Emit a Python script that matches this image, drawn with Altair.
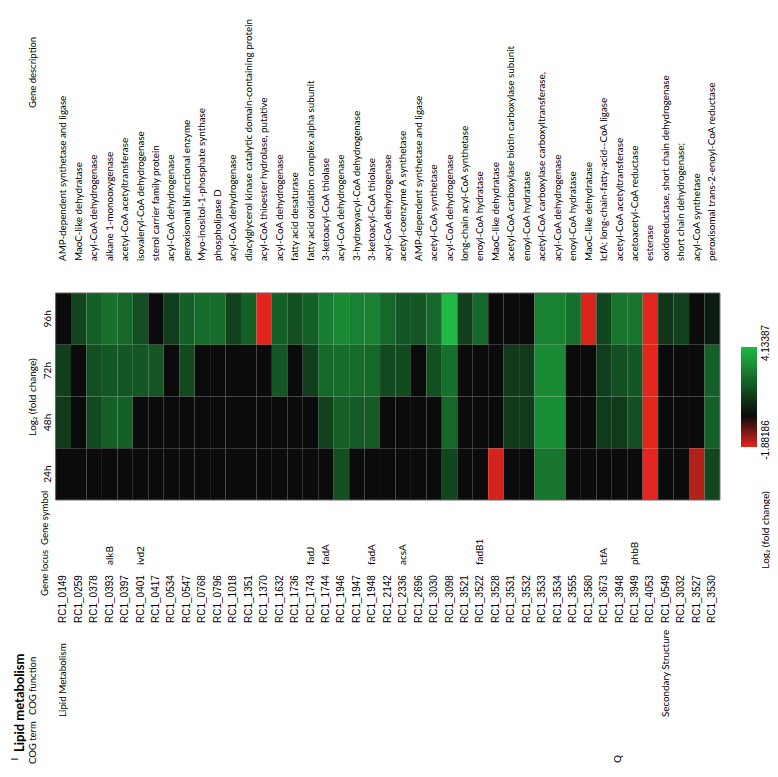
import altair as alt
import pandas as pd

# ---------------- data ----------------
loci = ["RC1_0149", "RC1_0259", "RC1_0378", "RC1_0393", "RC1_0397", "RC1_0401", "RC1_0417",
        "RC1_0534", "RC1_0547", "RC1_0768", "RC1_0796", "RC1_1018", "RC1_1351", "RC1_1370",
        "RC1_1632", "RC1_1736", "RC1_1743", "RC1_1744", "RC1_1946", "RC1_1947", "RC1_1948",
        "RC1_2142", "RC1_2336", "RC1_2696", "RC1_3030", "RC1_3098", "RC1_3521", "RC1_3522",
        "RC1_3528", "RC1_3531", "RC1_3532", "RC1_3533", "RC1_3534", "RC1_3555", "RC1_3580",
        "RC1_3673", "RC1_3948", "RC1_3949", "RC1_4053", "RC1_0549", "RC1_3032", "RC1_3527",
        "RC1_3530"]

symbols = ["", "", "", "alkB", "", "ivd2", "", "", "", "", "", "", "", "", "", "",
           "fadJ", "fadA", "", "", "fadA", "", "acsA", "", "", "", "", "fadB1", "", "", "",
           "", "", "", "", "lcfA", "", "phbB", "", "", "", "", ""]

descriptions = [
    "AMP-dependent synthetase and ligase",
    "MaoC-like dehydratase",
    "acyl-CoA dehydrogenase",
    "alkane 1-monooxygenase",
    "acetyl-CoA acetyltransferase",
    "isovaleryl-CoA dehydrogenase",
    "sterol carrier family protein",
    "acyl-CoA dehydrogenase",
    "peroxisomal bifunctional enzyme",
    "Myo-inositol-1-phosphate synthase",
    "phospholipase D",
    "acyl-CoA dehydrogenase",
    "diacylglycerol kinase catalytic domain-containing protein",
    "acyl-CoA thioester hydrolase, putative",
    "acyl-CoA dehydrogenase",
    "fatty acid desaturase",
    "fatty acid oxidation complex alpha subunit",
    "3-ketoacyl-CoA thiolase",
    "acyl-CoA dehydrogenase",
    "3-hydroxyacyl-CoA dehydrogenase",
    "3-ketoacyl-CoA thiolase",
    "acyl-CoA dehydrogenase",
    "acetyl-coenzyme A synthetase",
    "AMP-dependent synthetase and ligase",
    "acetyl-CoA synthetase",
    "acyl-CoA dehydrogenase",
    "long-chain acyl-CoA synthetase",
    "enoyl-CoA hydratase",
    "MaoC-like dehydratase",
    "acetyl-CoA carboxylase biotin carboxylase subunit",
    "enoyl-CoA hydratase",
    "acetyl-CoA carboxylase carboxyltransferase,",
    "acyl-CoA dehydrogenase",
    "enoyl-CoA hydratase",
    "MaoC-like dehydratase",
    "lcfA; long-chain-fatty-acid--CoA ligase",
    "acetyl-CoA acetyltransferase",
    "acetoacetyl-CoA reductase",
    "esterase",
    "oxidoreductase, short chain dehydrogenase",
    "short chain dehydrogenase;",
    "acyl-CoA synthetase",
    "peroxisomal trans-2-enoyl-CoA reductase",
]

cog_function = ["Lipid Metabolism"] + [""] * 38 + ["Secondary Structure"] + [""] * 3
cog_term = ["I"] + [""] * 38 + ["Q"] + [""] * 3

times = ["96h", "72h", "48h", "24h"]

v96 = [0, 1.4, 2.0, 2.4, 2.2, 1.6, 0, 1.2, 2.0, 2.3,
       2.3, 1.3, 2.0, -1.88, 2.0, 1.6, 2.0, 2.7, 3.0, 2.8,
       2.8, 2.2, 1.8, 1.8, 2.2, 4.13, 1.2, 2.2, 0, 0,
       0, 2.8, 2.8, 2.4, -1.8, 1.4, 2.5, 2.5, -1.88, 1.0,
       1.3, 0, 0.4]
v72 = [1.2, 0, 1.6, 1.8, 1.8, 1.8, 1.8, 0, 1.5, 0,
       0, 0, 0, 0, 1.8, 0, 1.2, 2.2, 2.3, 2.3,
       2.2, 1.5, 1.5, 0, 1.6, 2.4, 0, 0, 0, 1.1,
       1.1, 3.0, 3.0, 0, 0, 1.2, 1.6, 1.8, -1.88, 0,
       0, 0, 2.0]
v48 = [1.1, 0, 1.5, 2.0, 2.0, 0, 0, 0, 0, 0,
       0, 0, 0, 0, 0, 0, 0, 1.3, 2.0, 1.9,
       1.9, 0, 0, 0, 0, 2.2, 0, 0, 0, 1.1,
       1.1, 3.1, 3.1, 0, 0, 1.1, 1.1, 1.6, -1.88, 0,
       0, 0, 2.0]
v24 = [0, 0, 0, 0, 0, 0, 0, 0, 0, 0,
       0, 0, 0, 0, 0, 0, 0, 0, 1.6, 0,
       0, 0, 0, 0, 0, 1.4, 0, 0, -1.75, 0,
       0, 2.5, 2.5, 0, 0, 0, 0, 0, -1.88, 0,
       0, -1.45, 1.4]

color_min, color_max = -1.88186, 4.13387
legend_title = "Log\u2082 (fold change)"

# ---------------- tables ----------------
series = {"96h": v96, "72h": v72, "48h": v48, "24h": v24}
rows = []
for r, t in enumerate(times):
    for i, val in enumerate(series[t]):
        rows.append({"idx": i, "r": r, "time": t, "v": val, "locus": loci[i]})
heat = pd.DataFrame(rows)

genes = pd.DataFrame({
    "idx": list(range(len(loci))),
    "locus": loci,
    "symbol": symbols,
    "desc": descriptions,
    "cogf": cog_function,
    "cogt": cog_term,
})
tlab = pd.DataFrame({"time": times, "r": list(range(len(times)))})

W, H = 762, 761
xs = alt.Scale(domain=[-3.579, 45.74], nice=False, zero=False)
ys = alt.Scale(domain=[-5.507, 9.198], reverse=True, nice=False, zero=False)

FONT = "Lato"

heatmap = alt.Chart(heat).transform_calculate(
    x0="datum.idx - 0.5", x1="datum.idx + 0.5", y0="datum.r", y1="datum.r + 1"
).mark_rect().encode(
    x=alt.X("x0:Q", scale=xs, axis=None),
    x2="x1:Q",
    y=alt.Y("y0:Q", scale=ys, axis=None),
    y2="y1:Q",
    color=alt.Color(
        "v:Q",
        scale=alt.Scale(domain=[color_min, 0, color_max],
                        range=["#e2261d", "#0b0b0b", "#1fba45"],
                        interpolate="rgb"),
        legend=alt.Legend(orient="none", legendX=733, legendY=339, direction="vertical",
                          gradientLength=100, gradientThickness=16, labelOpacity=0,
                          title=None, gradientStrokeWidth=0),
    ),
)

frame = alt.Chart(pd.DataFrame({"a": [0]})).transform_calculate(
    x0="-0.5", x1=str(len(loci) - 0.5), y0="0", y1=str(len(times))
).mark_rect(fillOpacity=0, stroke="#666666", strokeWidth=1).encode(
    x=alt.X("x0:Q", scale=xs, axis=None), x2="x1:Q",
    y=alt.Y("y0:Q", scale=ys, axis=None), y2="y1:Q",
)

desc = alt.Chart(genes).mark_text(angle=270, align="left", baseline="middle",
                                  font=FONT, fontSize=9.8, color="black").encode(
    x=alt.X("idx:Q", scale=xs, axis=None), y=alt.value(253), text="desc:N")

locus = alt.Chart(genes).mark_text(angle=270, align="left", baseline="middle",
                                   font="Liberation Sans", fontSize=10, color="black").encode(
    x=alt.X("idx:Q", scale=xs, axis=None), y=alt.value(615), text="locus:N")

sym = alt.Chart(genes).mark_text(angle=270, align="left", baseline="middle",
                                 font=FONT, fontSize=10, color="black").encode(
    x=alt.X("idx:Q", scale=xs, axis=None), y=alt.value(557), text="symbol:N")

cogf = alt.Chart(genes).mark_text(angle=270, align="left", baseline="middle",
                                  font=FONT, fontSize=9.8, color="black").encode(
    x=alt.X("idx:Q", scale=xs, axis=None), y=alt.value(709), text="cogf:N")

cogt = alt.Chart(genes).mark_text(angle=270, align="center", baseline="middle",
                                  font=FONT, fontSize=10, dy=-48, color="black").encode(
    x=alt.X("idx:Q", scale=xs, axis=None), y=alt.value(751), text="cogt:N")

tl = alt.Chart(tlab).transform_calculate(yc="datum.r + 0.5").mark_text(
    angle=270, align="center", baseline="middle", font=FONT, fontSize=10, color="black"
).encode(x=alt.value(40), y=alt.Y("yc:Q", scale=ys, axis=None), text="time:N")


def label(txt, x, y, align="left", size=9.5, weight="normal", font=FONT):
    return alt.Chart(pd.DataFrame({"t": [txt]})).mark_text(
        angle=270, align=align, baseline="middle", font=font, fontSize=size,
        fontWeight=weight, color="black"
    ).encode(x=alt.value(x), y=alt.value(y), text="t:N")


headers = [
    label("Lipid metabolism", 12, 744, size=13, weight="bold"),
    label("COG term", 25, 756),
    label("COG function", 25, 707),
    label("Gene locus", 37, 588),
    label("Gene symbol", 37, 537),
    label(legend_title, 25, 389, align="center", size=10),
    label("Gene description", 25, 100),
    label(str(color_max), 758, 335, align="center", size=10, font="Liberation Sans"),
    label(str(color_min), 758, 432, align="center", size=10, font="Liberation Sans"),
    label(legend_title, 758, 522, align="center", size=10),
]

chart = alt.layer(heatmap, frame, desc, locus, sym, cogf, cogt, tl, *headers).properties(
    width=W, height=H, autosize=alt.AutoSizeParams(type="none"), padding=0
).configure_view(stroke=None)

chart.save("out.html", embed_options={"renderer": "svg", "actions": False})
